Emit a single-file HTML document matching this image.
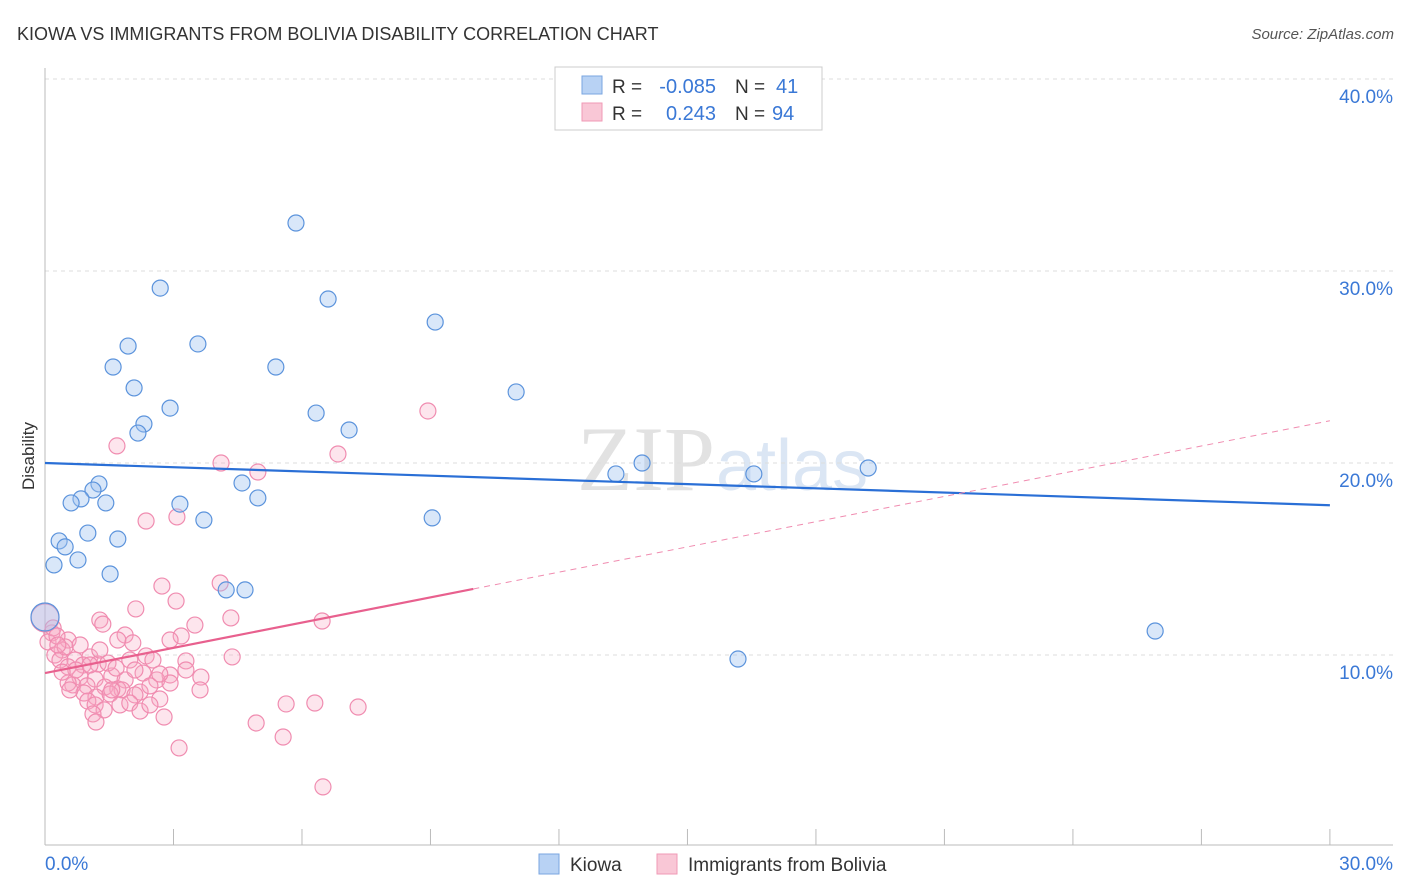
<!DOCTYPE html>
<html><head><meta charset="utf-8"><style>
body{margin:0;background:#fff;font-family:"Liberation Sans",sans-serif;}
#wrap{position:relative;width:1406px;height:892px;overflow:hidden;}
</style></head><body>
<div id="wrap">
<svg id="svg" width="1406" height="892" xmlns="http://www.w3.org/2000/svg">
<text x="17" y="40" font-size="18" fill="#333">KIOWA VS IMMIGRANTS FROM BOLIVIA DISABILITY CORRELATION CHART</text>
<text x="1394" y="39" font-size="15" fill="#555" font-style="italic" text-anchor="end">Source: ZipAtlas.com</text>
<text x="715" y="490" font-size="92" fill="#e2e2e2" font-family="Liberation Serif" text-anchor="end">ZIP</text>
<text x="716" y="490" font-size="72" fill="#dbe6f4">atlas</text>
<g id="grid"></g><g id="axes"></g><g id="pts"></g><g id="lines"></g>
<text x="34" y="456" font-size="17" fill="#333" transform="rotate(-90 34 456)" text-anchor="middle">Disability</text>
<g>
<rect x="555" y="67" width="267" height="63" fill="#fff" stroke="#ccc"/>
<rect x="582" y="76" width="20" height="18" fill="#b8d2f4" stroke="#7aa6e0"/>
<rect x="582" y="103" width="20" height="18" fill="#f9c7d6" stroke="#f09ab6"/>
<text x="612" y="93" font-size="19" fill="#333">R =</text>
<text x="716" y="93" font-size="20" fill="#3a78d6" text-anchor="end">-0.085</text>
<text x="735" y="93" font-size="19" fill="#333">N =</text>
<text x="776" y="93" font-size="20" fill="#3a78d6">41</text>
<text x="612" y="120" font-size="19" fill="#333">R =</text>
<text x="716" y="120" font-size="20" fill="#3a78d6" text-anchor="end">0.243</text>
<text x="735" y="120" font-size="19" fill="#333">N =</text>
<text x="772" y="120" font-size="20" fill="#3a78d6">94</text>
</g>
<g>
<rect x="539" y="854" width="20" height="20" fill="#b8d2f4" stroke="#7aa6e0"/>
<text x="570" y="871" font-size="19" fill="#333">Kiowa</text>
<rect x="657" y="854" width="20" height="20" fill="#f9c7d6" stroke="#f09ab6"/>
<text x="688" y="871" font-size="19" fill="#333">Immigrants from Bolivia</text>
</g>
</svg>
</div>
<script>
const xTicks=[0,3,6,9,12,15,18,21,24,27,30];
const yTicks=[10,20,30,40];
const yTickLabels=["10.0%","20.0%","30.0%","40.0%"];
const kiowaX=[5.86,2.69,6.61,9.11,1.94,3.57,1.59,5.39,2.08,11.0,2.92,6.33,2.31,2.17,7.10,13.33,13.94,16.55,19.22,4.60,4.97,1.26,1.12,0.84,0.61,1.42,3.15,9.04,3.71,1.0,1.70,0.33,0.47,0.77,0.21,1.52,4.23,4.67,25.92,16.18,0];
const kiowaY=[32.5,29.11,28.54,27.34,26.09,26.2,25.0,25.0,23.91,23.7,22.86,22.6,22.03,21.56,21.72,19.43,20.0,19.43,19.74,18.96,18.18,18.91,18.59,18.13,17.92,17.92,17.86,17.14,17.03,16.35,16.04,15.94,15.63,14.95,14.69,14.22,13.39,13.39,11.25,9.79,11.98];
const bolX=[8.94,1.68,4.11,4.97,6.84,2.36,3.08,2.73,4.09,3.06,2.12,4.34,6.47,1.28,3.5,1.35,3.18,2.92,1.87,2.05,1.7,0.54,0.16,0.07,2.36,2.52,4.37,3.29,1.05,0.4,0.23,0.35,0.7,1.24,0.89,0.54,2.29,2.92,3.64,1.56,0.82,1.17,1.87,2.61,2.92,0.65,0.98,1.4,1.7,1.8,2.22,2.1,0.91,1.19,1.52,0.54,2.68,1.0,1.17,1.75,1.98,2.22,1.38,1.12,2.78,1.19,4.93,5.63,6.3,7.31,5.56,3.13,6.49,0,0.19,0.28,0.47,0.72,0.4,1.28,1.98,1.47,2.45,1.66,3.62,3.29,0.58,2.45,0.3,0.82,1.56,1.05,2.1,2.68];
const bolY=[22.71,20.89,20.0,19.53,20.47,16.98,17.19,13.59,13.75,12.81,12.4,11.93,11.77,11.82,11.56,11.61,10.99,10.78,11.04,10.63,10.78,10.78,11.15,10.68,9.95,9.74,9.9,9.69,9.9,10.26,10.0,9.74,9.74,9.53,9.48,9.38,9.06,8.96,8.85,8.91,8.85,8.75,8.7,8.7,8.54,8.44,8.39,8.33,8.23,8.18,8.07,7.92,8.02,7.81,7.97,8.54,7.71,7.6,7.4,7.4,7.5,7.08,7.14,6.93,6.77,6.51,6.46,7.45,7.5,7.29,5.73,5.16,3.13,11.93,11.41,10.99,10.42,9.22,9.11,10.26,9.74,9.58,7.4,9.32,8.18,9.22,8.18,8.39,10.52,10.52,8.18,9.48,9.22,9.01];
const kiowaTrend=[20.0,17.8];
const bolTrend=[9.06,22.2];
const NS="http://www.w3.org/2000/svg";
const xs=v=>45+v*42.83, ys=v=>847-v*19.2;
function mk(tag,attrs,parent){const e=document.createElementNS(NS,tag);for(const k in attrs)e.setAttribute(k,attrs[k]);document.getElementById(parent).appendChild(e);return e;}
yTicks.forEach((t,i)=>{
 const g=mk('line',{x1:45,x2:1393,y1:ys(t),y2:ys(t),stroke:'#ddd','stroke-dasharray':'4,4'},'grid');
 
 
 const l=mk('text',{x:1393,y:ys(t)+24,'font-size':19,fill:'#3a78d6','text-anchor':'end'},'grid');
 l.textContent=yTickLabels[i];
 
 
});
const ax=mk('line',{x1:45,x2:45,y1:68,y2:845,stroke:'#bbb'},'axes');


const bx=mk('line',{x1:45,x2:1393,y1:845,y2:845,stroke:'#bbb'},'axes');


xTicks.forEach(t=>{
 const tk=mk('line',{x1:xs(t),x2:xs(t),y1:829,y2:845,stroke:'#bbb'},'axes');
 
 
});
const xl0=mk('text',{x:45,y:870,'font-size':19,fill:'#3a78d6'},'axes');xl0.textContent='0.0%';


const xl1=mk('text',{x:1393,y:870,'font-size':19,fill:'#3a78d6','text-anchor':'end'},'axes');xl1.textContent='30.0%';


bolX.forEach((x,i)=>{
 const c=mk('circle',{cx:xs(x),cy:ys(bolY[i]),r:x===0?14:8,fill:'rgba(247,170,196,0.3)',stroke:'#f08cb0','stroke-width':1.2},'pts');
 
 
});
kiowaX.forEach((x,i)=>{
 const c=mk('circle',{cx:xs(x),cy:ys(kiowaY[i]),r:x===0?14:8,fill:'rgba(160,196,240,0.4)',stroke:'#5b93dc','stroke-width':1.2},'pts');
 
 
});
const kt=mk('line',{x1:xs(0),y1:ys(kiowaTrend[0]),x2:xs(30),y2:ys(kiowaTrend[1]),stroke:'#2a6fd6','stroke-width':2.2},'lines');


const bm=v=>bolTrend[0]+(bolTrend[1]-bolTrend[0])*v/30;
const bt=mk('line',{x1:xs(0),y1:ys(bm(0)),x2:xs(10),y2:ys(bm(10)),stroke:'#e8608e','stroke-width':2.2},'lines');


const bd=mk('line',{x1:xs(10),y1:ys(bm(10)),x2:xs(30),y2:ys(bm(30)),stroke:'#f08cb0','stroke-width':1,'stroke-dasharray':'6,5'},'lines');


</script>
</body></html>
